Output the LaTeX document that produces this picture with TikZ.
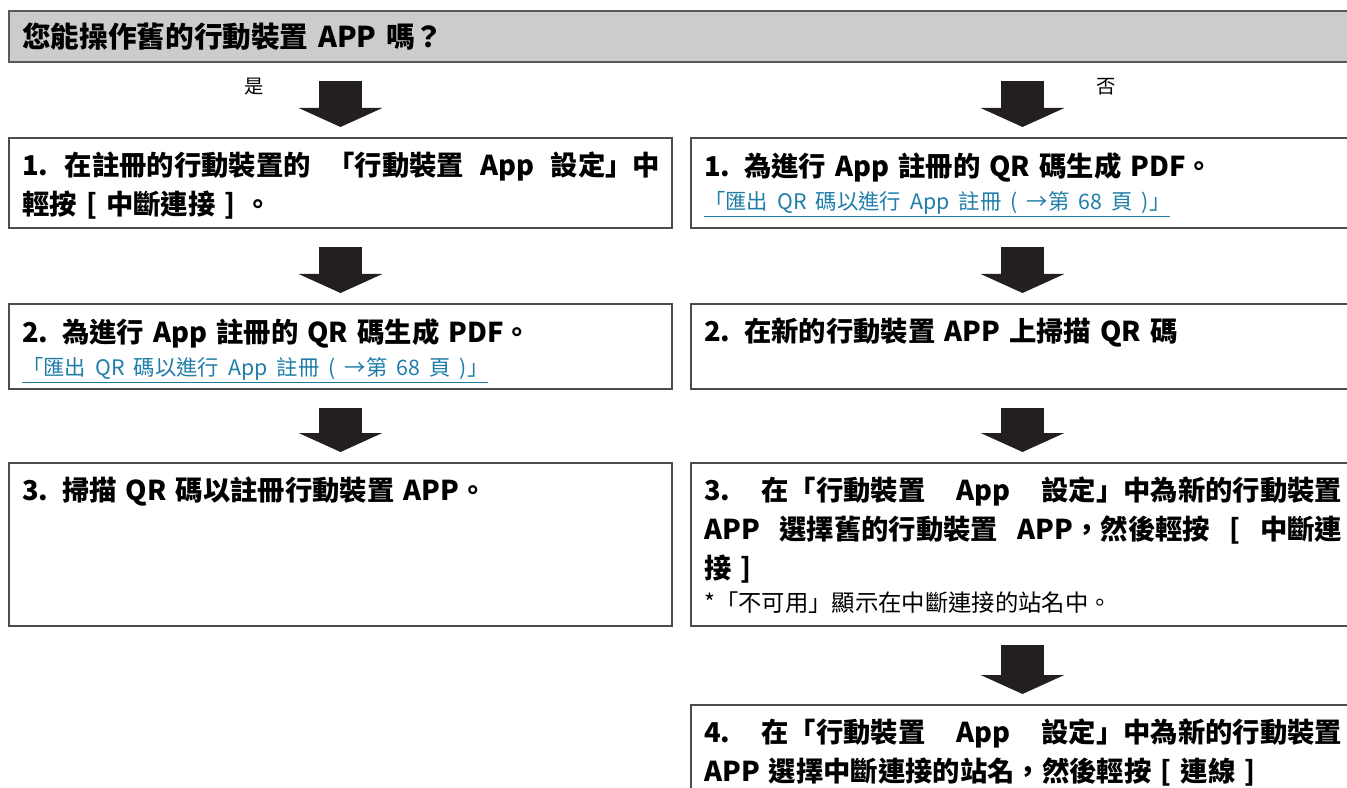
\documentclass[tikz,border=0pt]{standalone}
\usepackage{fontspec}
\setmainfont{Noto Sans CJK TC}
\usetikzlibrary{arrows.meta}

\definecolor{linkblue}{HTML}{1F7DA8}
\definecolor{hdrgray}{HTML}{CCCCCC}
\definecolor{arrowblack}{HTML}{231F20}

\newlength{\txtw}
\setlength{\txtw}{478.5pt}
\newcommand{\fullline}[1]{\makebox[\txtw][s]{\spaceskip=\fontdimen2\font plus 1fil\relax
  \xspaceskip=\spaceskip #1}}
\newcommand{\linkfont}{\fontsize{16}{24.75}\selectfont\mdseries\color{linkblue}}
\newcommand{\notefont}{\fontsize{17.5}{24.75}\selectfont\mdseries}

\tikzset{
  hdr/.style={draw=black!65, fill=hdrgray, line width=1.1pt, anchor=north west, outer sep=0pt,
    inner xsep=9.75pt, text width=993.75pt, minimum height=38.25pt, align=left,
    font=\bfseries\fontsize{21.5}{24}\selectfont},
  box/.style={draw=black!70, line width=1.1pt, anchor=north west, outer sep=0pt, inner sep=0pt,
    minimum width=497.25pt},
  txt/.style={anchor=north west, inner sep=0pt, text width=\txtw, align=left,
    font=\bfseries\fontsize{20.5}{29.25}\selectfont},
  yesno/.style={inner sep=0pt, font=\fontsize{14.5}{16}\selectfont},
  downarrow/.style={draw=arrowblack, line width=32.25pt, -{Triangle[length=14.25pt, width=62.25pt]},
    shorten <=14.25pt, shorten >=8.25pt},
}

\begin{document}
\begin{tikzpicture}[x=0.75pt, y=-0.75pt]
  \useasboundingbox (0,0) rectangle (1347,788);
  \clip (0,0) rectangle (1347,788);

  % question
  \node[hdr] (q) at (9,11) {您能操作舊的行動裝置 APP 嗎？};

  % left column (yes)
  \node[box, minimum height=67.5pt] (l1) at (9,138) {};
  \node[box, minimum height=63.75pt] (l2) at (9,304) {};
  \node[box, minimum height=122.25pt] (l3) at (9,463) {};

  % right column (no)
  \node[box, minimum height=67.5pt] (r1) at (691,138) {};
  \node[box, minimum height=63.75pt] (r2) at (691,304) {};
  \node[box, minimum height=122.25pt] (r3) at (691,463) {};
  \node[box, minimum height=75pt] (r4) at (691,705) {};

  % texts
  \node[txt] (l1t) at ([shift={(13,14)}]l1.north west)
    {\fullline{1. 在註冊的行動裝置的 「行動裝置 App 設定」中}\par
     輕按 [ 中斷連接 ] 。};
  \node[txt] (l2t) at ([shift={(13,14)}]l2.north west)
    {2. 為進行 App 註冊的 QR 碼生成 PDF。\par
     {\linkfont\underline{「匯出 QR 碼以進行 App 註冊 ( →第 68 頁 )」}\par}};
  \node[txt] (l3t) at ([shift={(13,14)}]l3.north west)
    {3. 掃描 QR 碼以註冊行動裝置 APP。};
  \node[txt] (r1t) at ([shift={(13,14)}]r1.north west)
    {1. 為進行 App 註冊的 QR 碼生成 PDF。\par
     {\linkfont\underline{「匯出 QR 碼以進行 App 註冊 ( →第 68 頁 )」}\par}};
  \node[txt] (r2t) at ([shift={(13,14)}]r2.north west)
    {2. 在新的行動裝置 APP 上掃描 QR 碼};
  \node[txt] (r3t) at ([shift={(13,14)}]r3.north west)
    {\fullline{3. 在「行動裝置 App 設定」中為新的行動裝置}\par
     \fullline{APP 選擇舊的行動裝置 APP，然後輕按 [ 中斷連}\par
     接 ]\par
     {\notefont *「不可用」顯示在中斷連接的站名中。\par}};
  \node[txt] (r4t) at ([shift={(13,14)}]r4.north west)
    {\fullline{4. 在「行動裝置 App 設定」中為新的行動裝置}\par
     APP 選擇中斷連接的站名，然後輕按 [ 連線 ]};

  % answers
  \node[yesno] (yes) at (254,87) {是};
  \node[yesno] (no) at (1106,87) {否};

  % arrows
  \draw[downarrow] (q.south -| l1.north) -- (l1.north);
  \draw[downarrow] (q.south -| r1.north) -- (r1.north);
  \draw[downarrow] (l1.south) -- (l2.north);
  \draw[downarrow] (l2.south) -- (l3.north);
  \draw[downarrow] (r1.south) -- (r2.north);
  \draw[downarrow] (r2.south) -- (r3.north);
  \draw[downarrow] (r3.south) -- (r4.north);
\end{tikzpicture}
\end{document}
